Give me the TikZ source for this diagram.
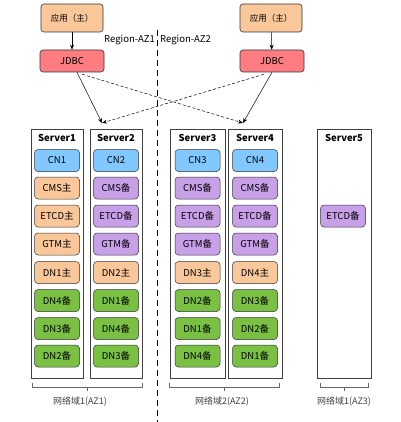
\documentclass[tikz,border=0pt]{standalone}
\usepackage{fontspec}
\setmainfont{Noto Sans CJK SC}
\usetikzlibrary{arrows.meta}
\definecolor{appc}{HTML}{FAC79A}
\definecolor{jdbcc}{HTML}{FF7C80}
\definecolor{cnc}{HTML}{80C8FF}
\definecolor{purc}{HTML}{C8A0E8}
\definecolor{grnc}{HTML}{7AC143}
\definecolor{orgc}{HTML}{FAC79A}
\tikzset{
  every node/.style={font=\fontsize{9.5}{10}\selectfont},
  topbox/.style={draw=black!80, rounded corners=3pt, minimum width=62pt, minimum height=27pt, inner sep=0pt, line width=0.6pt},
  srvbox/.style={draw=black!75, line width=0.6pt},
  item/.style={draw=black!80, rounded corners=3.5pt, minimum width=45pt, minimum height=22pt, inner sep=0pt, line width=0.5pt, font=\fontsize{9.5}{10}\selectfont},
  cn/.style={item, fill=cnc},
  pu/.style={item, fill=purc},
  gr/.style={item, fill=grnc},
  og/.style={item, fill=orgc},
  srvlabel/.style={font=\bfseries\fontsize{9.5}{10}\selectfont},
  arr/.style={-{Stealth[length=5pt,width=4pt]}, line width=0.5pt},
  darr/.style={arr, dashed, dash pattern=on 3pt off 2pt},
  brace/.style={draw=black!60, line width=0.5pt},
  azlabel/.style={font=\fontsize{9}{10}\selectfont, text=black!75},
}
\begin{document}
\begin{tikzpicture}[x=1pt,y=-1pt]
\useasboundingbox (0,0) rectangle (400,422);
% top boxes
\node[topbox, fill=appc, minimum height=28pt] (app1) at (72,18) {\fontsize{8.5}{9}\selectfont 应用（主）};
\node[topbox, fill=jdbcc, minimum width=64pt, minimum height=22pt] (jdbc1) at (72,61) {JDBC};
\node[topbox, fill=appc, minimum height=28pt] (app2) at (271,18) {\fontsize{8.5}{9}\selectfont 应用（主）};
\node[topbox, fill=jdbcc, minimum width=64pt, minimum height=22pt] (jdbc2) at (272,61) {JDBC};
\draw[arr] (app1) -- (jdbc1);
\draw[arr] (app2) -- (jdbc2);
% region labels and divider
\node[anchor=east, inner sep=0pt] (r1) at (155,40) {Region-AZ1};
\node[anchor=west, inner sep=0pt] (r2) at (160,40) {Region-AZ2};
\coordinate (dv1) at (157,30);
\coordinate (dv2) at (157,422);
\draw[dashed, dash pattern=on 6pt off 4pt, line width=0.7pt] (dv1) -- (dv2);
% server boxes
\draw[srvbox] (31,129) rectangle (83,378);
\draw[srvbox] (90,129) rectangle (142,378);
\draw[srvbox] (170,129) rectangle (225,378);
\draw[srvbox] (228,129) rectangle (282,378);
\draw[srvbox] (317,129) rectangle (371,378);
\node[srvlabel] (s1) at (57,138) {Server1};
\node[srvlabel] (s2) at (116,138) {Server2};
\node[srvlabel] (s3) at (197.5,138) {Server3};
\node[srvlabel] (s4) at (255,138) {Server4};
\node[srvlabel] (s5) at (344,138) {Server5};
% arrow targets
\coordinate (t2) at (102,123);
\coordinate (t4) at (243,123);
\draw[arr] (jdbc1.south) ++(5,0) coordinate (j1s) (j1s) -- (t2);
\draw[darr] (jdbc1.south east) ++(-22,2) coordinate (j1d) (j1d) -- (t4);
\draw[arr] (jdbc2.south) ++(0,0) coordinate (j2s) (j2s) -- (t4);
\draw[darr] (jdbc2.south west) ++(24,2) coordinate (j2d) (j2d) -- (t2);
% Server1
\node[cn] (a1) at (57,160.5) {CN1};
\node[og] (a2) at (57,188) {CMS主};
\node[og] (a3) at (57,216) {ETCD主};
\node[og] (a4) at (57,244) {GTM主};
\node[og] (a5) at (57,272.5) {DN1主};
\node[gr] (a6) at (57,300.5) {DN4备};
\node[gr] (a7) at (57,328.5) {DN3备};
\node[gr] (a8) at (57,356) {DN2备};
% Server2
\node[cn] (b1) at (116,160.5) {CN2};
\node[pu] (b2) at (116,188) {CMS备};
\node[pu] (b3) at (116,216) {ETCD备};
\node[pu] (b4) at (116,244) {GTM备};
\node[og] (b5) at (116,272.5) {DN2主};
\node[gr] (b6) at (116,300.5) {DN1备};
\node[gr] (b7) at (116,328.5) {DN4备};
\node[gr] (b8) at (116,356) {DN3备};
% Server3
\node[cn] (c1) at (197.5,160.5) {CN3};
\node[pu] (c2) at (197.5,188) {CMS备};
\node[pu] (c3) at (197.5,216) {ETCD备};
\node[pu] (c4) at (197.5,244) {GTM备};
\node[og] (c5) at (197.5,272.5) {DN3主};
\node[gr] (c6) at (197.5,300.5) {DN2备};
\node[gr] (c7) at (197.5,328.5) {DN1备};
\node[gr] (c8) at (197.5,356) {DN4备};
% Server4
\node[cn] (d1) at (255,160.5) {CN4};
\node[pu] (d2) at (255,188) {CMS备};
\node[pu] (d3) at (255,216) {ETCD备};
\node[pu] (d4) at (255,244) {GTM备};
\node[og] (d5) at (255,272.5) {DN4主};
\node[gr] (d6) at (255,300.5) {DN3备};
\node[gr] (d7) at (255,328.5) {DN2备};
\node[gr] (d8) at (255,356) {DN1备};
% Server5
\node[pu] (e3) at (343,216) {ETCD备};
% braces
\draw[brace] (32,383) -- (32,387) -- (142,387) -- (142,383) (87,387) -- (87,391);
\draw[brace] (169,383) -- (169,387) -- (279,387) -- (279,383) (224,387) -- (224,391);
\draw[brace] (320,383) -- (320,387) -- (368,387) -- (368,383) (344,387) -- (344,391);
\node[azlabel] (z1) at (80,402) {网络域1(AZ1)};
\node[azlabel] (z2) at (222,402) {网络域2(AZ2)};
\node[azlabel] (z3) at (344,402) {网络域1(AZ3)};
\end{tikzpicture}
\end{document}
